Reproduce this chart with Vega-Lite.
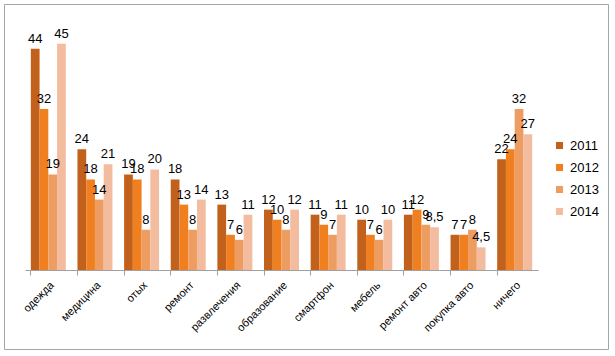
{
  "$schema": "https://vega.github.io/schema/vega-lite/v6.json",
  "width": 604,
  "height": 345,
  "autosize": "none",
  "padding": {"left": 4, "top": 4, "right": 7, "bottom": 7},
  "background": "white",
  "config": {
    "view": {"stroke": "#a6a6a6", "strokeWidth": 1},
    "font": "Liberation Sans"
  },
  "data": {
    "values": [
      {"cat": "одежда", "year": "2011", "v": 44, "lbl": "44"},
      {"cat": "одежда", "year": "2012", "v": 32, "lbl": "32"},
      {"cat": "одежда", "year": "2013", "v": 19, "lbl": "19"},
      {"cat": "одежда", "year": "2014", "v": 45, "lbl": "45"},
      {"cat": "медицина", "year": "2011", "v": 24, "lbl": "24"},
      {"cat": "медицина", "year": "2012", "v": 18, "lbl": "18"},
      {"cat": "медицина", "year": "2013", "v": 14, "lbl": "14"},
      {"cat": "медицина", "year": "2014", "v": 21, "lbl": "21"},
      {"cat": "отых", "year": "2011", "v": 19, "lbl": "19"},
      {"cat": "отых", "year": "2012", "v": 18, "lbl": "18"},
      {"cat": "отых", "year": "2013", "v": 8, "lbl": "8"},
      {"cat": "отых", "year": "2014", "v": 20, "lbl": "20"},
      {"cat": "ремонт", "year": "2011", "v": 18, "lbl": "18"},
      {"cat": "ремонт", "year": "2012", "v": 13, "lbl": "13"},
      {"cat": "ремонт", "year": "2013", "v": 8, "lbl": "8"},
      {"cat": "ремонт", "year": "2014", "v": 14, "lbl": "14"},
      {"cat": "развлечения", "year": "2011", "v": 13, "lbl": "13"},
      {"cat": "развлечения", "year": "2012", "v": 7, "lbl": "7"},
      {"cat": "развлечения", "year": "2013", "v": 6, "lbl": "6"},
      {"cat": "развлечения", "year": "2014", "v": 11, "lbl": "11"},
      {"cat": "образование", "year": "2011", "v": 12, "lbl": "12"},
      {"cat": "образование", "year": "2012", "v": 10, "lbl": "10"},
      {"cat": "образование", "year": "2013", "v": 8, "lbl": "8"},
      {"cat": "образование", "year": "2014", "v": 12, "lbl": "12"},
      {"cat": "смартфон", "year": "2011", "v": 11, "lbl": "11"},
      {"cat": "смартфон", "year": "2012", "v": 9, "lbl": "9"},
      {"cat": "смартфон", "year": "2013", "v": 7, "lbl": "7"},
      {"cat": "смартфон", "year": "2014", "v": 11, "lbl": "11"},
      {"cat": "мебель", "year": "2011", "v": 10, "lbl": "10"},
      {"cat": "мебель", "year": "2012", "v": 7, "lbl": "7"},
      {"cat": "мебель", "year": "2013", "v": 6, "lbl": "6"},
      {"cat": "мебель", "year": "2014", "v": 10, "lbl": "10"},
      {"cat": "ремонт авто", "year": "2011", "v": 11, "lbl": "11"},
      {"cat": "ремонт авто", "year": "2012", "v": 12, "lbl": "12"},
      {"cat": "ремонт авто", "year": "2013", "v": 9, "lbl": "9"},
      {"cat": "ремонт авто", "year": "2014", "v": 8.5, "lbl": "8,5"},
      {"cat": "покупка авто", "year": "2011", "v": 7, "lbl": "7"},
      {"cat": "покупка авто", "year": "2012", "v": 7, "lbl": "7"},
      {"cat": "покупка авто", "year": "2013", "v": 8, "lbl": "8"},
      {"cat": "покупка авто", "year": "2014", "v": 4.5, "lbl": "4,5"},
      {"cat": "ничего", "year": "2011", "v": 22, "lbl": "22"},
      {"cat": "ничего", "year": "2012", "v": 24, "lbl": "24"},
      {"cat": "ничего", "year": "2013", "v": 32, "lbl": "32"},
      {"cat": "ничего", "year": "2014", "v": 27, "lbl": "27"}
    ]
  },
  "encoding": {
    "x": {
      "field": "cat",
      "type": "nominal",
      "sort": null,
      "scale": {"range": [21, 534], "paddingInner": 0.25, "paddingOuter": 0.125},
      "axis": {
        "title": null,
        "offset": -79,
        "labelAngle": -45,
        "labelFontSize": 11,
        "labelColor": "#000000",
        "labelPadding": 4,
        "domainColor": "#a0a0a0",
        "tickColor": "#a0a0a0",
        "tickSize": 5,
        "bandPosition": 0
      }
    },
    "xOffset": {"field": "year", "type": "nominal", "scale": {"paddingInner": 0, "paddingOuter": 0}},
    "y": {
      "field": "v",
      "type": "quantitative",
      "scale": {"domain": [0, 50], "range": [266, 14.5], "nice": false, "zero": true},
      "axis": null
    }
  },
  "layer": [
    {
      "mark": {"type": "bar"},
      "encoding": {
        "color": {
          "field": "year",
          "type": "nominal",
          "scale": {"domain": ["2011", "2012", "2013", "2014"], "range": ["#C1611C", "#F0801F", "#EE9D62", "#F3BC9E"]},
          "legend": {
            "title": null,
            "orient": "none",
            "legendX": 549,
            "legendY": 135,
            "symbolType": "square",
            "symbolSize": 50,
            "labelFontSize": 13,
            "labelColor": "#000000",
            "rowPadding": 8
          }
        }
      }
    },
    {
      "mark": {"type": "text", "baseline": "bottom", "dy": -3, "fontSize": 13, "color": "#000000"},
      "encoding": {"text": {"field": "lbl"}}
    }
  ]
}
